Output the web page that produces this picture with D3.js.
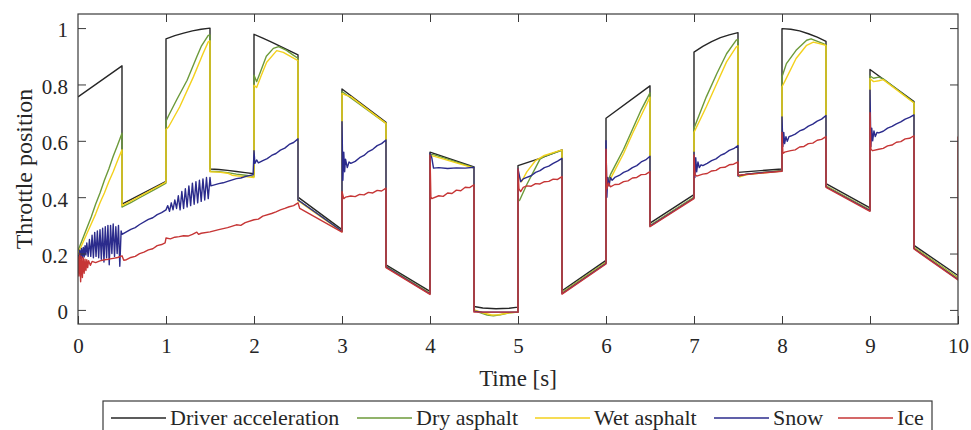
<!DOCTYPE html>
<html>
<head>
<meta charset="utf-8">
<script src="https://cdn.jsdelivr.net/npm/d3@7"></script>
<style>
  body { margin: 0; background: #fff; }
  svg { display: block; }
  text { font-family: "Liberation Serif", "Times New Roman", serif; fill: #262626; }
</style>
</head>
<body>
<svg id="chart" width="971" height="430"></svg>
<script>
// Axis ticks
const timeTicks = [0, 1, 2, 3, 4, 5, 6, 7, 8, 9, 10];
const throttleTicks = [0, 0.2, 0.4, 0.6, 0.8, 1];

// Legend entries
const seriesNames = ["Driver acceleration", "Dry asphalt", "Wet asphalt", "Snow", "Ice"];
const seriesColors = ["#262626", "#6c9a3a", "#f3d11c", "#2b2b8c", "#c63636"];

// Throttle traces: [time (s), throttle position]
const driverAcceleration = [
  [0, 0.756], [0.5, 0.866], [0.5, 0.375], [1.0, 0.456], [1.0, 0.962], [1.1, 0.973], [1.2, 0.982],
  [1.3, 0.99], [1.4, 0.996], [1.5, 1.0], [1.5, 0.5], [1.6, 0.498], [1.7, 0.495], [1.8, 0.491],
  [1.9, 0.487], [2.0, 0.483], [2.0, 0.978], [2.1, 0.964], [2.2, 0.95], [2.3, 0.935], [2.4, 0.92],
  [2.5, 0.905], [2.5, 0.4], [3.0, 0.285], [3.0, 0.784], [3.5, 0.666], [3.5, 0.16], [4.0, 0.066],
  [4.0, 0.56], [4.5, 0.507], [4.5, 0.012], [4.6, 0.007], [4.75, 0.004], [4.9, 0.006], [5.0, 0.01],
  [5.0, 0.512], [5.25, 0.538], [5.5, 0.568], [5.5, 0.068], [6.0, 0.176], [6.0, 0.68], [6.5, 0.795],
  [6.5, 0.308], [7.0, 0.409], [7.0, 0.915], [7.1, 0.935], [7.2, 0.952], [7.3, 0.966], [7.4, 0.976],
  [7.5, 0.984], [7.5, 0.488], [8.0, 0.5], [8.0, 0.998], [8.1, 0.996], [8.2, 0.99], [8.3, 0.98],
  [8.4, 0.968], [8.5, 0.953], [8.5, 0.448], [9.0, 0.362], [9.0, 0.853], [9.5, 0.739], [9.5, 0.229],
  [10, 0.122]
];

const dryAsphalt = [
  [0, 0.21], [0.05, 0.25], [0.1, 0.29], [0.15, 0.33], [0.2, 0.375], [0.25, 0.415], [0.3, 0.46],
  [0.35, 0.5], [0.4, 0.545], [0.45, 0.585], [0.5, 0.627], [0.5, 0.365], [0.52, 0.368], [0.6, 0.381],
  [0.7, 0.398], [0.8, 0.415], [0.9, 0.432], [1.0, 0.45], [1.0, 0.67], [1.03, 0.69], [1.12, 0.745],
  [1.24, 0.815], [1.35, 0.898], [1.4, 0.935], [1.48, 0.974], [1.5, 0.976], [1.5, 0.492], [1.6, 0.49],
  [1.7, 0.487], [1.8, 0.482], [1.9, 0.478], [2.0, 0.474], [2.0, 0.833], [2.03, 0.81], [2.08, 0.85],
  [2.14, 0.9], [2.22, 0.928], [2.28, 0.934], [2.37, 0.921], [2.45, 0.903], [2.5, 0.893], [2.5, 0.39],
  [3.0, 0.28], [3.0, 0.775], [3.5, 0.662], [3.5, 0.155], [4.0, 0.06], [4.0, 0.552], [4.05, 0.55],
  [4.5, 0.505], [4.5, 0.0], [4.55, -0.008], [4.65, -0.018], [4.72, -0.021], [4.8, -0.017],
  [4.9, -0.01], [5.0, -0.008], [5.0, 0.385], [5.02, 0.39], [5.1, 0.445], [5.2, 0.505], [5.25, 0.535],
  [5.3, 0.545], [5.4, 0.556], [5.5, 0.566], [5.5, 0.062], [6.0, 0.17], [6.0, 0.44], [6.05, 0.48],
  [6.1, 0.51], [6.2, 0.57], [6.3, 0.64], [6.4, 0.71], [6.5, 0.77], [6.5, 0.3], [7.0, 0.4],
  [7.0, 0.645], [7.14, 0.756], [7.26, 0.839], [7.37, 0.909], [7.48, 0.957], [7.5, 0.96], [7.5, 0.48],
  [7.52, 0.475], [7.6, 0.482], [8.0, 0.495], [8.0, 0.827], [8.05, 0.874], [8.16, 0.921],
  [8.28, 0.957], [8.33, 0.962], [8.47, 0.945], [8.5, 0.94], [8.5, 0.44], [9.0, 0.355], [9.0, 0.83],
  [9.04, 0.822], [9.1, 0.826], [9.15, 0.82], [9.5, 0.736], [9.5, 0.222], [10, 0.115]
];

const wetAsphalt = [
  [0, 0.2], [0.05, 0.235], [0.1, 0.27], [0.15, 0.305], [0.2, 0.34], [0.25, 0.38], [0.3, 0.415],
  [0.35, 0.455], [0.4, 0.49], [0.45, 0.53], [0.5, 0.568], [0.5, 0.37], [0.6, 0.386], [0.7, 0.403],
  [0.8, 0.42], [0.9, 0.437], [1.0, 0.453], [1.0, 0.64], [1.03, 0.65], [1.155, 0.72], [1.31, 0.826],
  [1.42, 0.909], [1.48, 0.951], [1.5, 0.955], [1.5, 0.49], [1.6, 0.489], [1.7, 0.485], [1.75, 0.478],
  [1.8, 0.476], [1.9, 0.473], [2.0, 0.47], [2.0, 0.797], [2.03, 0.789], [2.08, 0.83], [2.144, 0.879],
  [2.258, 0.92], [2.333, 0.914], [2.485, 0.887], [2.5, 0.885], [2.5, 0.388], [3.0, 0.278],
  [3.0, 0.768], [3.04, 0.762], [3.1, 0.757], [3.5, 0.662], [3.5, 0.152], [4.0, 0.058], [4.0, 0.548],
  [4.05, 0.545], [4.5, 0.503], [4.5, 0.0], [4.6, -0.01], [4.7, -0.018], [4.78, -0.017], [4.9, -0.01],
  [5.0, -0.008], [5.0, 0.48], [5.04, 0.455], [5.1, 0.49], [5.2, 0.53], [5.3, 0.548], [5.4, 0.558],
  [5.5, 0.568], [5.5, 0.06], [6.0, 0.168], [6.0, 0.43], [6.05, 0.465], [6.1, 0.495], [6.2, 0.555],
  [6.3, 0.625], [6.4, 0.69], [6.5, 0.755], [6.5, 0.298], [7.0, 0.398], [7.0, 0.63], [7.14, 0.721],
  [7.26, 0.804], [7.37, 0.88], [7.48, 0.933], [7.5, 0.937], [7.5, 0.478], [7.52, 0.472], [7.6, 0.48],
  [8.0, 0.493], [8.0, 0.792], [8.03, 0.81], [8.16, 0.892], [8.28, 0.939], [8.356, 0.95],
  [8.49, 0.94], [8.5, 0.938], [8.5, 0.438], [9.0, 0.353], [9.0, 0.821], [9.04, 0.81], [9.1, 0.813],
  [9.15, 0.817], [9.5, 0.734], [9.5, 0.22], [10, 0.112]
];

const snow = [
  [0, 0.195], [0.01, 0.178], [0.02, 0.212], [0.03, 0.182], [0.04, 0.218], [0.05, 0.185],
  [0.06, 0.222], [0.07, 0.188], [0.08, 0.228], [0.09, 0.195], [0.1, 0.238], [0.115, 0.19],
  [0.13, 0.25], [0.145, 0.19], [0.16, 0.265], [0.175, 0.185], [0.19, 0.275], [0.205, 0.19],
  [0.22, 0.28], [0.235, 0.185], [0.25, 0.285], [0.265, 0.18], [0.28, 0.29], [0.295, 0.17],
  [0.31, 0.295], [0.325, 0.185], [0.34, 0.3], [0.355, 0.16], [0.37, 0.3], [0.385, 0.2],
  [0.4, 0.305], [0.415, 0.19], [0.43, 0.295], [0.445, 0.2], [0.46, 0.3], [0.475, 0.155],
  [0.49, 0.28], [0.5, 0.268], [0.6, 0.286], [0.65, 0.292], [0.7, 0.303], [0.8, 0.321], [0.85, 0.327],
  [0.9, 0.338], [0.95, 0.345], [1.0, 0.355], [1.02, 0.37], [1.04, 0.35], [1.06, 0.38], [1.08, 0.355],
  [1.1, 0.39], [1.12, 0.36], [1.14, 0.405], [1.16, 0.355], [1.18, 0.42], [1.2, 0.36], [1.22, 0.43],
  [1.24, 0.365], [1.26, 0.44], [1.28, 0.37], [1.3, 0.45], [1.32, 0.375], [1.34, 0.455], [1.36, 0.38],
  [1.38, 0.46], [1.4, 0.385], [1.42, 0.465], [1.44, 0.39], [1.46, 0.47], [1.48, 0.395], [1.5, 0.47],
  [1.51, 0.44], [1.6, 0.448], [1.65, 0.451], [1.7, 0.456], [1.8, 0.466], [1.85, 0.468], [1.9, 0.473],
  [1.99, 0.48], [2.0, 0.565], [2.01, 0.52], [2.03, 0.532], [2.05, 0.522], [2.1, 0.53], [2.15, 0.537],
  [2.2, 0.548], [2.25, 0.555], [2.3, 0.567], [2.35, 0.574], [2.4, 0.587], [2.45, 0.594], [2.5, 0.607],
  [2.5, 0.39], [3.0, 0.279], [3.0, 0.668], [3.01, 0.46], [3.02, 0.56], [3.03, 0.49], [3.04, 0.535],
  [3.06, 0.505], [3.08, 0.525], [3.1, 0.52], [3.15, 0.527], [3.2, 0.54], [3.25, 0.548], [3.3, 0.562],
  [3.35, 0.57], [3.4, 0.583], [3.45, 0.59], [3.5, 0.603], [3.5, 0.153], [4.0, 0.057], [4.0, 0.555],
  [4.02, 0.54], [4.04, 0.503], [4.1, 0.505], [4.2, 0.502], [4.3, 0.504], [4.4, 0.503], [4.5, 0.506],
  [4.5, -0.005], [4.6, -0.008], [5.0, -0.008], [5.0, 0.5], [5.03, 0.455], [5.06, 0.465], [5.1, 0.47],
  [5.15, 0.476], [5.2, 0.488], [5.25, 0.494], [5.3, 0.505], [5.35, 0.51], [5.4, 0.52], [5.45, 0.528],
  [5.5, 0.538], [5.5, 0.058], [6.0, 0.165], [6.0, 0.6], [6.01, 0.4], [6.02, 0.47], [6.035, 0.44],
  [6.05, 0.47], [6.07, 0.46], [6.1, 0.47], [6.15, 0.477], [6.2, 0.488], [6.25, 0.494], [6.3, 0.505],
  [6.35, 0.512], [6.4, 0.525], [6.45, 0.532], [6.5, 0.545], [6.5, 0.297], [7.0, 0.397], [7.0, 0.56],
  [7.01, 0.47], [7.02, 0.54], [7.03, 0.49], [7.045, 0.525], [7.06, 0.505], [7.08, 0.515],
  [7.1, 0.512], [7.15, 0.52], [7.2, 0.53], [7.25, 0.536], [7.3, 0.548], [7.35, 0.555], [7.4, 0.566],
  [7.45, 0.572], [7.5, 0.583], [7.5, 0.475], [7.6, 0.482], [7.8, 0.488], [8.0, 0.493], [8.0, 0.685],
  [8.01, 0.58], [8.02, 0.63], [8.03, 0.59], [8.045, 0.615], [8.06, 0.598], [8.08, 0.615],
  [8.1, 0.617], [8.15, 0.624], [8.2, 0.635], [8.25, 0.641], [8.3, 0.652], [8.35, 0.659], [8.4, 0.67],
  [8.45, 0.677], [8.5, 0.69], [8.5, 0.437], [9.0, 0.352], [9.0, 0.78], [9.01, 0.58], [9.02, 0.645],
  [9.03, 0.6], [9.045, 0.635], [9.06, 0.615], [9.08, 0.63], [9.1, 0.628], [9.15, 0.634],
  [9.2, 0.645], [9.25, 0.651], [9.3, 0.66], [9.35, 0.667], [9.4, 0.677], [9.45, 0.683], [9.5, 0.692],
  [9.5, 0.218], [10, 0.108]
];

const ice = [
  [0, 0.19], [0.01, 0.12], [0.02, 0.2], [0.03, 0.1], [0.04, 0.19], [0.05, 0.115], [0.06, 0.185],
  [0.07, 0.13], [0.08, 0.18], [0.09, 0.14], [0.1, 0.178], [0.11, 0.15], [0.12, 0.175], [0.14, 0.158],
  [0.16, 0.172], [0.2, 0.168], [0.25, 0.174], [0.3, 0.178], [0.35, 0.18], [0.4, 0.183], [0.45, 0.186],
  [0.5, 0.192], [0.52, 0.176], [0.55, 0.178], [0.6, 0.186], [0.65, 0.19], [0.7, 0.2], [0.75, 0.205],
  [0.8, 0.213], [0.85, 0.217], [0.9, 0.228], [0.95, 0.232], [0.99, 0.238], [1.0, 0.255],
  [1.05, 0.252], [1.1, 0.258], [1.15, 0.26], [1.2, 0.263], [1.25, 0.262], [1.3, 0.268],
  [1.35, 0.276], [1.37, 0.268], [1.4, 0.272], [1.5, 0.277], [1.6, 0.285], [1.7, 0.292], [1.8, 0.302],
  [1.85, 0.3], [1.9, 0.31], [2.0, 0.32], [2.05, 0.322], [2.1, 0.333], [2.2, 0.342], [2.25, 0.348],
  [2.3, 0.355], [2.35, 0.36], [2.4, 0.366], [2.45, 0.37], [2.5, 0.38], [2.52, 0.36], [3.0, 0.276],
  [3.0, 0.42], [3.02, 0.395], [3.04, 0.4], [3.1, 0.404], [3.15, 0.402], [3.2, 0.41], [3.25, 0.408],
  [3.3, 0.417], [3.35, 0.415], [3.4, 0.424], [3.45, 0.422], [3.5, 0.432], [3.5, 0.15], [4.0, 0.055],
  [4.0, 0.55], [4.01, 0.4], [4.02, 0.395], [4.1, 0.405], [4.15, 0.403], [4.2, 0.415], [4.25, 0.413],
  [4.3, 0.425], [4.35, 0.423], [4.4, 0.435], [4.45, 0.434], [4.5, 0.444], [4.5, -0.008],
  [5.0, -0.008], [5.0, 0.5], [5.01, 0.43], [5.03, 0.42], [5.06, 0.435], [5.1, 0.44], [5.15, 0.439],
  [5.2, 0.448], [5.25, 0.447], [5.3, 0.455], [5.35, 0.456], [5.4, 0.464], [5.45, 0.463], [5.5, 0.473],
  [5.5, 0.056], [6.0, 0.163], [6.0, 0.57], [6.01, 0.43], [6.03, 0.45], [6.05, 0.437], [6.1, 0.445],
  [6.15, 0.446], [6.2, 0.455], [6.25, 0.458], [6.3, 0.468], [6.35, 0.47], [6.4, 0.48], [6.45, 0.481],
  [6.5, 0.491], [6.5, 0.295], [7.0, 0.395], [7.0, 0.55], [7.01, 0.48], [7.03, 0.475], [7.1, 0.482],
  [7.15, 0.484], [7.2, 0.493], [7.25, 0.495], [7.3, 0.505], [7.35, 0.506], [7.4, 0.515],
  [7.45, 0.517], [7.5, 0.525], [7.5, 0.478], [8.0, 0.492], [8.0, 0.63], [8.01, 0.555], [8.03, 0.56],
  [8.1, 0.565], [8.15, 0.568], [8.2, 0.578], [8.25, 0.58], [8.3, 0.59], [8.35, 0.592], [8.4, 0.602],
  [8.45, 0.605], [8.5, 0.615], [8.5, 0.435], [9.0, 0.35], [9.0, 0.7], [9.01, 0.57], [9.03, 0.565],
  [9.1, 0.57], [9.15, 0.573], [9.2, 0.582], [9.25, 0.585], [9.3, 0.595], [9.35, 0.597], [9.4, 0.607],
  [9.45, 0.609], [9.5, 0.618], [9.5, 0.216], [10, 0.106], [10, 0.615]
];

const traces = [driverAcceleration, dryAsphalt, wetAsphalt, snow, ice];

const svg = d3.select("#chart");
const plot = { left: 78, right: 958, top: 14, bottom: 324 };

const x = d3.scaleLinear().domain([0, 10]).range([plot.left, plot.right]);
const y = d3.scaleLinear().domain([-0.05, 1.05]).range([plot.bottom, plot.top]);

svg.append("rect").attr("width", 971).attr("height", 430).attr("fill", "#fff");

svg.append("defs").append("clipPath").attr("id", "plot-clip")
  .append("rect")
  .attr("x", plot.left).attr("y", plot.top)
  .attr("width", plot.right - plot.left).attr("height", plot.bottom - plot.top);

// Traces, drawn in legend order so later ones sit on top
const line = d3.line().x(d => x(d[0])).y(d => y(d[1]));
const traceGroup = svg.append("g").attr("clip-path", "url(#plot-clip)");
traces.forEach((data, i) => {
  traceGroup.append("path")
    .datum(data)
    .attr("d", line)
    .attr("fill", "none")
    .attr("stroke", seriesColors[i])
    .attr("stroke-width", 1.4)
    .attr("stroke-linejoin", "round");
});

// Axes with inward ticks on all four sides
const axisColor = "#3a3a3a";
const tickLen = 8;

function styleAxis(g) {
  g.select(".domain").remove();
  g.selectAll(".tick line").attr("stroke", axisColor).attr("stroke-width", 1);
  g.selectAll(".tick text")
    .attr("fill", "#262626")
    .style("font-family", '"Liberation Serif", "Times New Roman", serif')
    .style("font-size", "21px");
}

svg.append("g")
  .attr("transform", `translate(0,${plot.bottom})`)
  .call(d3.axisBottom(x).tickValues(timeTicks).tickSize(-tickLen).tickPadding(0).tickFormat(d => String(d)))
  .call(styleAxis)
  .call(g => g.selectAll(".tick text").attr("y", 29).attr("dy", 0));

svg.append("g")
  .attr("transform", `translate(0,${plot.top})`)
  .call(d3.axisTop(x).tickValues(timeTicks.slice(1, -1)).tickSize(-tickLen).tickFormat(() => ""))
  .call(styleAxis);

svg.append("g")
  .attr("transform", `translate(${plot.left},0)`)
  .call(d3.axisLeft(y).tickValues(throttleTicks).tickSize(-tickLen).tickPadding(10).tickFormat(d => String(d)))
  .call(styleAxis)
  .call(g => g.selectAll(".tick text").attr("dy", "0.42em"));

svg.append("g")
  .attr("transform", `translate(${plot.right},0)`)
  .call(d3.axisRight(y).tickValues(throttleTicks).tickSize(-tickLen).tickFormat(() => ""))
  .call(styleAxis);

svg.append("rect")
  .attr("x", plot.left).attr("y", plot.top)
  .attr("width", plot.right - plot.left).attr("height", plot.bottom - plot.top)
  .attr("fill", "none").attr("stroke", axisColor).attr("stroke-width", 1.2);

// Axis titles
svg.append("text")
  .attr("x", (plot.left + plot.right) / 2).attr("y", 386)
  .attr("text-anchor", "middle")
  .style("font-size", "23px")
  .text("Time [s]");

svg.append("text")
  .attr("transform", `translate(32,${(plot.top + plot.bottom) / 2}) rotate(-90)`)
  .attr("text-anchor", "middle")
  .style("font-size", "24px")
  .text("Throttle position");

// Legend: one horizontal row of sample line + label
const legendSlots = [111, 357, 535, 714, 838];
const legend = svg.append("g");
legend.append("rect")
  .attr("x", 103).attr("y", 401).attr("width", 829).attr("height", 40)
  .attr("fill", "#fff").attr("stroke", axisColor).attr("stroke-width", 1.2);

seriesNames.forEach((name, i) => {
  const x0 = legendSlots[i];
  legend.append("line")
    .attr("x1", x0).attr("x2", x0 + 55)
    .attr("y1", 418).attr("y2", 418)
    .attr("stroke", seriesColors[i]).attr("stroke-width", 1.4);
  legend.append("text")
    .attr("x", x0 + 59).attr("y", 425)
    .style("font-size", "22px")
    .text(name);
});
</script>
</body>
</html>
